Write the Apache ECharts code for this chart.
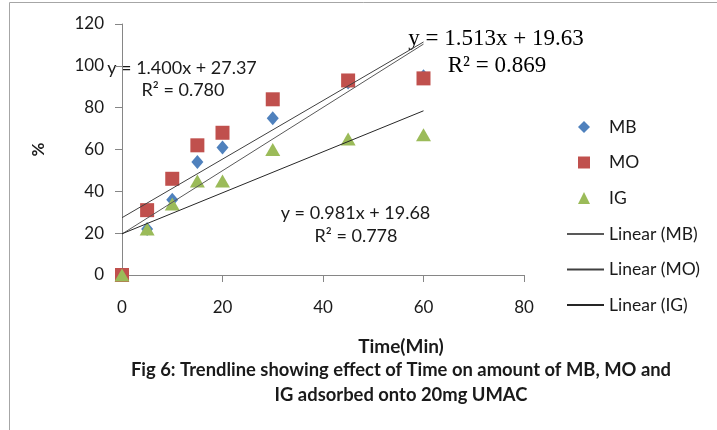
<!DOCTYPE html>
<html>
<head>
<meta charset="utf-8">
<script src="https://cdn.jsdelivr.net/npm/echarts@6/dist/echarts.min.js"></script>
<style>
  html, body { margin: 0; padding: 0; background: #fff; }
  #chart { width: 717px; height: 430px; }
</style>
</head>
<body>
<div id="chart"></div>
<script>
// data
const times = [0, 5, 10, 15, 20, 30, 45, 60];
const mb = [0, 22, 36, 54, 61, 75, 92, 95];
const mo = [0, 31, 46, 62, 68, 84, 93, 94];
const ig = [0, 22, 34, 45, 45, 60, 65, 67];

// trendline ends (x = 0 and x = 60)
const trendX = [0, 60];
const trendMB = [19.6, 110.4];
const trendMO = [27.4, 111.4];
const trendIG = [19.7, 78.5];

const xTicks = [0, 20, 40, 60, 80];
const yTicks = [0, 20, 40, 60, 80, 100, 120];

const pair = (xs, ys) => xs.map((x, i) => [x, ys[i]]);

const font = 'Lato';
const axisGray = '#868686';

const chart = echarts.init(document.getElementById('chart'));

chart.setOption({
  animation: false,
  textStyle: { fontFamily: font },
  grid: { left: 122, right: 193, top: 24, bottom: 155 },
  xAxis: {
    type: 'value',
    min: xTicks[0], max: xTicks[xTicks.length - 1], interval: 20,
    axisLine: { lineStyle: { color: axisGray } },
    axisTick: { length: 7, lineStyle: { color: axisGray } },
    splitLine: { show: false },
    axisLabel: { margin: 24, fontSize: 17, color: '#1a1a1a', fontFamily: font }
  },
  yAxis: {
    type: 'value',
    min: yTicks[0], max: yTicks[yTicks.length - 1], interval: 20,
    name: '%',
    nameLocation: 'middle',
    nameGap: 75,
    nameRotate: 90,
    nameTextStyle: { fontSize: 17, fontWeight: 'bold', color: '#1a1a1a', fontFamily: font },
    axisLine: { show: true, lineStyle: { color: axisGray } },
    axisTick: { show: true, length: 7, lineStyle: { color: axisGray } },
    splitLine: { show: false },
    axisLabel: { margin: 18, fontSize: 17, color: '#1a1a1a', fontFamily: font }
  },
  legend: [
    {
      orient: 'vertical',
      left: 578, top: 118,
      padding: 0,
      itemWidth: 12, itemHeight: 12,
      itemGap: 17.5,
      data: ['MB', 'MO', 'IG'],
      textStyle: { fontSize: 17.5, lineHeight: 18, color: '#1a1a1a', padding: [0, 0, 0, 14], fontFamily: font }
    },
    {
      orient: 'vertical',
      left: 566, top: 225,
      padding: 0,
      itemWidth: 37, itemHeight: 12,
      itemGap: 17.5,
      itemStyle: { opacity: 0 },
      data: ['Linear (MB)', 'Linear (MO)', 'Linear (IG)'],
      textStyle: { fontSize: 17.5, lineHeight: 18, color: '#1a1a1a', fontFamily: font }
    }
  ],
  series: [
    {
      name: 'MB', type: 'scatter', symbol: 'diamond', symbolSize: [12, 14],
      itemStyle: { color: '#4F81BD', opacity: 1 },
      data: pair(times, mb)
    },
    {
      name: 'MO', type: 'scatter', symbol: 'rect', symbolSize: 14,
      itemStyle: { color: '#C0504D', opacity: 1 },
      data: pair(times, mo)
    },
    {
      name: 'IG', type: 'scatter', symbol: 'triangle', symbolSize: [15, 13],
      itemStyle: { color: '#9BBB59', opacity: 1 },
      data: pair(times, ig)
    },
    {
      name: 'Linear (MB)', type: 'line', symbol: 'none',
      lineStyle: { color: '#595959', width: 1 }, itemStyle: { color: '#595959' },
      data: pair(trendX, trendMB)
    },
    {
      name: 'Linear (MO)', type: 'line', symbol: 'none',
      lineStyle: { color: '#404040', width: 1 }, itemStyle: { color: '#404040' },
      data: pair(trendX, trendMO)
    },
    {
      name: 'Linear (IG)', type: 'line', symbol: 'none',
      lineStyle: { color: '#262626', width: 1 }, itemStyle: { color: '#262626' },
      data: pair(trendX, trendIG)
    }
  ],
  graphic: [
    {
      type: 'rect', silent: true,
      shape: { x: 9.5, y: 2.5, width: 800, height: 500 },
      style: { fill: 'none', stroke: '#a6a6a6', lineWidth: 1 }
    },
    {
      type: 'text', x: 496, y: 38.5,
      style: { text: 'y = 1.513x + 19.63', font: '23px "Liberation Serif"', fill: '#000', align: 'center', verticalAlign: 'middle' }
    },
    {
      type: 'text', x: 497, y: 66,
      style: { text: 'R² = 0.869', font: '23px "Liberation Serif"', fill: '#000', align: 'center', verticalAlign: 'middle' }
    },
    {
      type: 'text', x: 182, y: 68,
      style: { text: 'y = 1.400x + 27.37', font: '18px Lato', fill: '#1a1a1a', align: 'center', verticalAlign: 'middle' }
    },
    {
      type: 'text', x: 183, y: 90.5,
      style: { text: 'R² = 0.780', font: '18px Lato', fill: '#1a1a1a', align: 'center', verticalAlign: 'middle' }
    },
    {
      type: 'text', x: 355.5, y: 213.5,
      style: { text: 'y = 0.981x + 19.68', font: '18px Lato', fill: '#1a1a1a', align: 'center', verticalAlign: 'middle' }
    },
    {
      type: 'text', x: 356, y: 236.5,
      style: { text: 'R² = 0.778', font: '18px Lato', fill: '#1a1a1a', align: 'center', verticalAlign: 'middle' }
    },
    {
      type: 'text', x: 401, y: 347,
      style: { text: 'Time(Min)', font: 'bold 19px Lato', fill: '#1a1a1a', align: 'center', verticalAlign: 'middle' }
    },
    {
      type: 'text', x: 401, y: 370,
      style: { text: 'Fig 6: Trendline showing effect of Time on amount of MB, MO and', font: 'bold 18.4px Lato', fill: '#1a1a1a', align: 'center', verticalAlign: 'middle' }
    },
    {
      type: 'text', x: 401, y: 395,
      style: { text: 'IG adsorbed onto 20mg UMAC', font: 'bold 18.4px Lato', fill: '#1a1a1a', align: 'center', verticalAlign: 'middle' }
    }
  ]
});
</script>
</body>
</html>
